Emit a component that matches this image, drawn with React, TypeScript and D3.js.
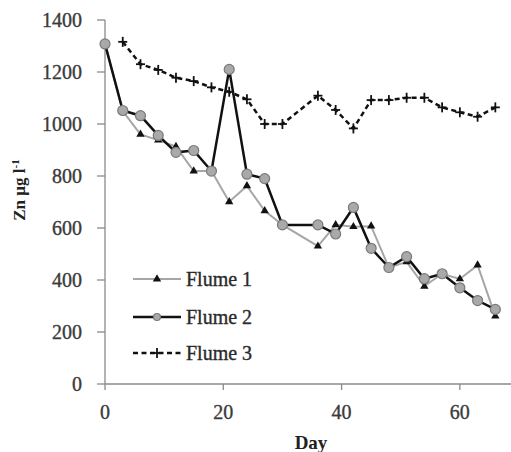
import React from "react";
import * as d3 from "d3";

const daysA = [0, 3, 6, 9, 12, 15, 18, 21, 24, 27, 30, 36, 39, 42, 45, 48, 51, 54, 57, 60, 63, 66];
const flume1 = [1308, 1050, 960, 938, 913, 819, 819, 701, 762, 666, 612, 530, 612, 605, 607, 448, 470, 376, 424, 404, 457, 261];
const flume2 = [1308, 1052, 1032, 956, 891, 898, 819, 1210, 807, 790, 612, 612, 577, 679, 522, 448, 490, 405, 424, 370, 321, 287];
const daysB = [3, 6, 9, 12, 15, 18, 21, 24, 27, 30, 36, 39, 42, 45, 48, 51, 54, 57, 60, 63, 66];
const flume3 = [1316, 1230, 1208, 1178, 1165, 1141, 1124, 1095, 1000, 1000, 1109, 1054, 983, 1092, 1092, 1101, 1101, 1064, 1045, 1028, 1064];
const yTicks = [0, 200, 400, 600, 800, 1000, 1200, 1400];
const xTicks = [0, 20, 40, 60];
const seriesNames = ["Flume 1", "Flume 2", "Flume 3"];

const W = 511;
const H = 452;
const FONT = "'Liberation Serif', 'DejaVu Serif', serif";

export default function App() {
  const x = d3.scaleLinear().domain([0, 70]).range([105, 519]);
  const y = d3.scaleLinear().domain([0, 1400]).range([384, 20]);
  const line = d3
    .line<[number, number]>()
    .x((d) => x(d[0]))
    .y((d) => y(d[1]));
  const s1: [number, number][] = daysA.map((d, i) => [d, flume1[i]]);
  const s2: [number, number][] = daysA.map((d, i) => [d, flume2[i]]);
  const s3: [number, number][] = daysB.map((d, i) => [d, flume3[i]]);
  const tri = d3.symbol().type(d3.symbolTriangle).size(30)() as string;

  const plus = (cx: number, cy: number, k: string | number) => (
    <g key={k}>
      <line x1={cx - 4.5} x2={cx + 4.5} y1={cy} y2={cy} stroke="#111" strokeWidth={1.8} />
      <line x1={cx} x2={cx} y1={cy - 5} y2={cy + 5} stroke="#111" strokeWidth={1.8} />
    </g>
  );

  const legendY = [279, 317, 353];

  return (
    <svg width={W} height={H} style={{ position: "absolute", left: 0, top: 0, background: "#fff" }} fontFamily={FONT}>
      <rect width={W} height={H} fill="#fff" />
      {/* axes */}
      <line x1={x(0)} x2={x(0)} y1={y(1400)} y2={y(0)} stroke="#8a8a8a" strokeWidth={1.3} />
      <line x1={x(0)} x2={x(70)} y1={y(0)} y2={y(0)} stroke="#8a8a8a" strokeWidth={1.3} />
      {yTicks.map((t) => (
        <g key={"y" + t}>
          <line x1={x(0) - 8} x2={x(0)} y1={y(t)} y2={y(t)} stroke="#8a8a8a" strokeWidth={1.3} />
          <text x={82} y={y(t)} dy="0.35em" textAnchor="end" fontSize={20} fill="#3a3a3a" stroke="#3a3a3a" strokeWidth={0.35}>
            {t}
          </text>
        </g>
      ))}
      {xTicks.map((t) => (
        <g key={"x" + t}>
          <line x1={x(t)} x2={x(t)} y1={y(0)} y2={y(0) + 6} stroke="#8a8a8a" strokeWidth={1.3} />
          <text x={x(t)} y={412} dy="0.35em" textAnchor="middle" fontSize={20} fill="#3a3a3a" stroke="#3a3a3a" strokeWidth={0.35}>
            {t}
          </text>
        </g>
      ))}
      <text x={311} y={442} dy="0.35em" textAnchor="middle" fontSize={19} fontWeight="bold" fill="#222">
        Day
      </text>
      <text transform="translate(25,190) rotate(-90)" textAnchor="middle" fontSize={17} fontWeight="bold" fill="#222">
        Zn µg l
        <tspan dy={-6} fontSize={11}>-1</tspan>
      </text>

      {/* Flume 1 */}
      <path d={line(s1) as string} fill="none" stroke="#a6a6a6" strokeWidth={2} />
      {s1.map((d, i) => (
        <path key={"t" + i} d={tri} transform={`translate(${x(d[0])},${y(d[1])})`} fill="#111" />
      ))}
      {/* Flume 2 */}
      <path d={line(s2) as string} fill="none" stroke="#111" strokeWidth={2.5} />
      {s2.map((d, i) => (
        <circle key={"c" + i} cx={x(d[0])} cy={y(d[1])} r={5} fill="#a9a9a9" stroke="#7a7a7a" strokeWidth={1.2} />
      ))}
      {/* Flume 3 */}
      <path d={line(s3) as string} fill="none" stroke="#111" strokeWidth={2.5} strokeDasharray="5,3.5" />
      {s3.map((d, i) => plus(x(d[0]), y(d[1]), "p" + i))}

      {/* legend */}
      <line x1={133} x2={181} y1={legendY[0]} y2={legendY[0]} stroke="#a6a6a6" strokeWidth={2} />
      <path d={tri} transform={`translate(157,${legendY[0]})`} fill="#111" />
      <line x1={133} x2={181} y1={legendY[1]} y2={legendY[1]} stroke="#111" strokeWidth={2.5} />
      <circle cx={157} cy={legendY[1]} r={3.5} fill="#a9a9a9" stroke="#7a7a7a" strokeWidth={1.2} />
      <line x1={133} x2={181} y1={legendY[2]} y2={legendY[2]} stroke="#111" strokeWidth={2.5} strokeDasharray="5,3.5" />
      {plus(157, legendY[2], "lp")}
      {seriesNames.map((n, i) => (
        <text key={n} x={186} y={legendY[i]} dy="0.35em" fontSize={20} fill="#2a2a2a" stroke="#2a2a2a" strokeWidth={0.35}>
          {n}
        </text>
      ))}
    </svg>
  );
}
